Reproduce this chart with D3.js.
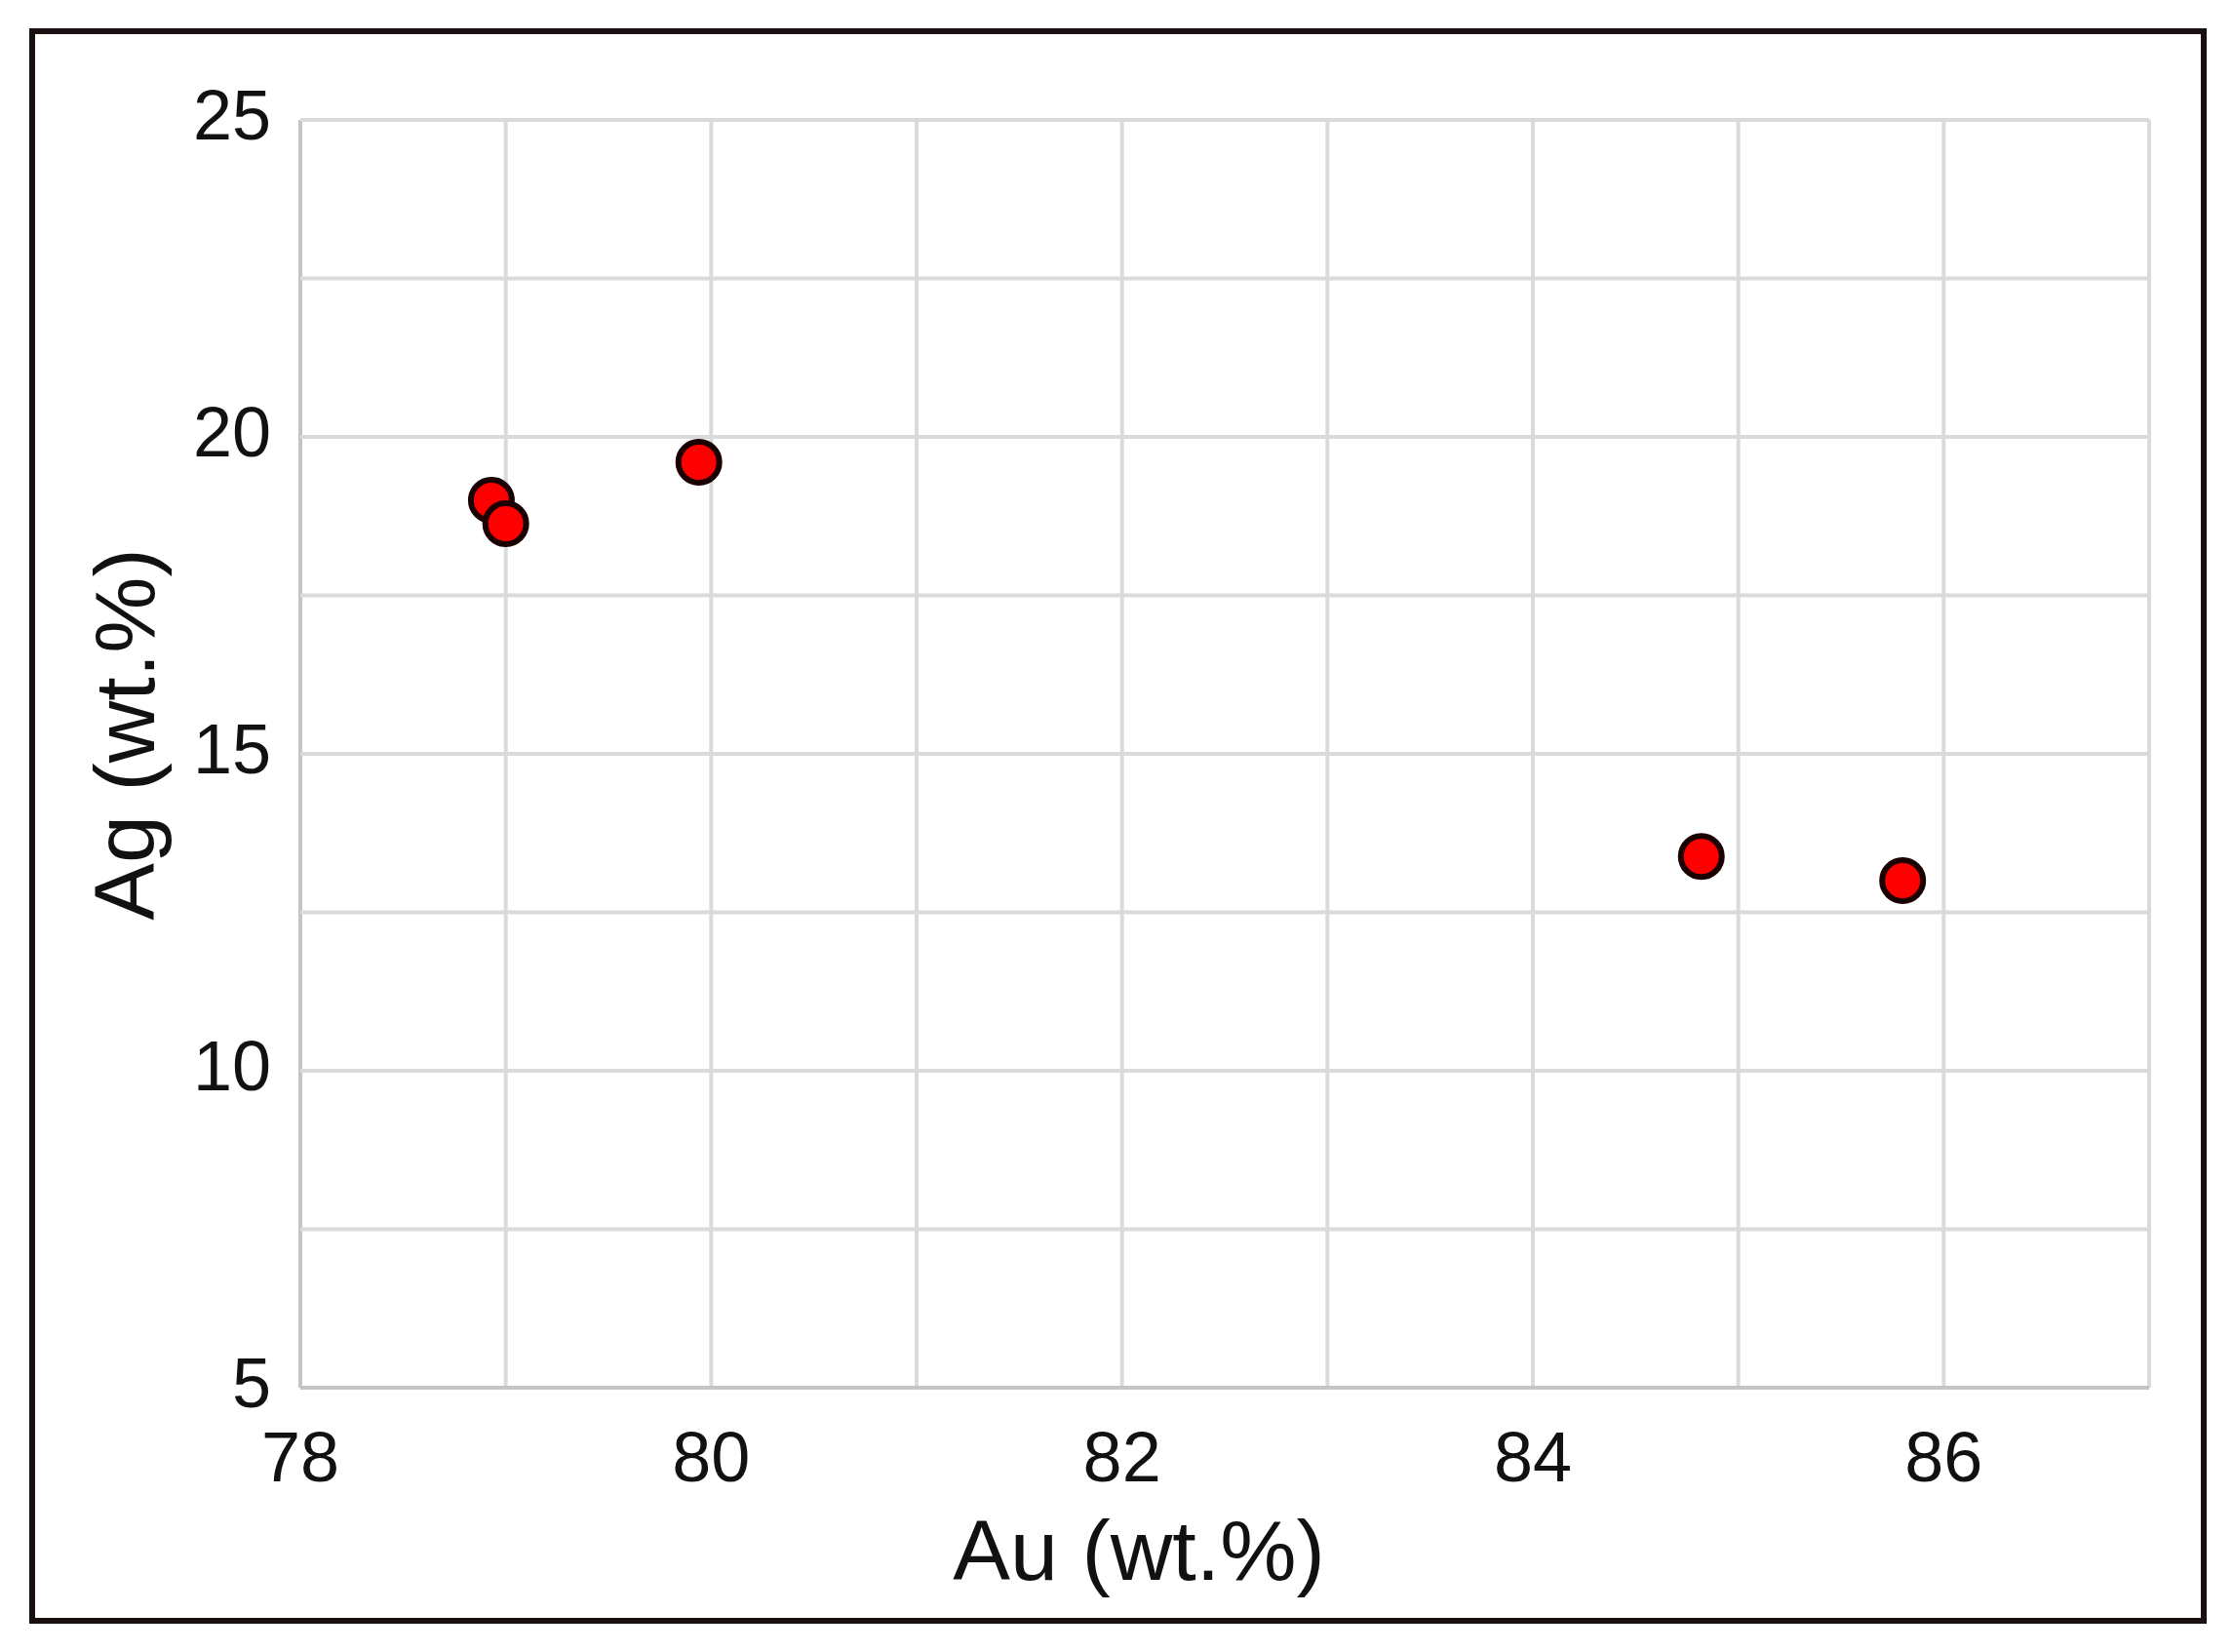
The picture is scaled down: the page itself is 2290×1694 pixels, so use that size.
<!DOCTYPE html>
<html>
<head>
<meta charset="utf-8">
<script src="https://cdn.jsdelivr.net/npm/d3@7"></script>
<style>
  body { margin: 0; background: #fff; }
  text { font-family: "Liberation Sans", Arial, sans-serif; fill: #111; }
</style>
</head>
<body>
<svg id="chart"></svg>
<script>
// Au vs Ag composition
const auValues = [78.93, 79.0, 79.94, 84.82, 85.8];
const agValues = [19.0, 18.63, 19.6, 13.38, 13.0];
const xTicks = [78, 80, 82, 84, 86];
const yTicks = [5, 10, 15, 20, 25];

const width = 2290, height = 1694;
const margin = { top: 123, right: 86, bottom: 271, left: 308 };

const svg = d3.select('#chart')
    .attr('width', width)
    .attr('height', height);

svg.append('rect')
    .attr('x', 33).attr('y', 32)
    .attr('width', 2227).attr('height', 1630)
    .attr('fill', 'none')
    .attr('stroke', '#1a1010')
    .attr('stroke-width', 6);

const x = d3.scaleLinear().domain([78, 87]).range([margin.left, width - margin.right]);
const y = d3.scaleLinear().domain([5, 25]).range([height - margin.bottom, margin.top]);

const grid = svg.append('g');
grid.selectAll('.vgrid')
    .data(d3.range(78, 87.01, 1))
    .join('line')
    .attr('x1', d => x(d)).attr('x2', d => x(d))
    .attr('y1', y(5)).attr('y2', y(25))
    .attr('stroke', d => d === 78 ? '#c4c4c4' : '#dadada')
    .attr('stroke-width', 4);
grid.selectAll('.hgrid')
    .data(d3.range(5, 25.01, 2.5))
    .join('line')
    .attr('x1', x(78)).attr('x2', x(87))
    .attr('y1', d => y(d)).attr('y2', d => y(d))
    .attr('stroke', d => d === 5 ? '#c4c4c4' : '#dadada')
    .attr('stroke-width', 4);

svg.selectAll('.xt')
    .data(xTicks)
    .join('text')
    .attr('x', d => x(d))
    .attr('y', y(5) + 96)
    .attr('text-anchor', 'middle')
    .attr('font-size', 72)
    .text(d => d);

svg.selectAll('.yt')
    .data(yTicks)
    .join('text')
    .attr('x', x(78) - 30)
    .attr('y', d => y(d) + 20)
    .attr('text-anchor', 'end')
    .attr('font-size', 72)
    .text(d => d);

svg.append('text')
    .attr('x', 1168)
    .attr('y', 1620)
    .attr('text-anchor', 'middle')
    .attr('font-size', 88)
    .text('Au (wt.%)');

svg.append('text')
    .attr('transform', `translate(158, ${y(15) - 20}) rotate(-90)`)
    .attr('text-anchor', 'middle')
    .attr('font-size', 88)
    .text('Ag (wt.%)');

svg.selectAll('.pt')
    .data(auValues.map((d, i) => ({ au: d, ag: agValues[i] })))
    .join('circle')
    .attr('cx', d => x(d.au))
    .attr('cy', d => y(d.ag))
    .attr('r', 21)
    .attr('fill', '#ff0000')
    .attr('stroke', '#1a0000')
    .attr('stroke-width', 6);
</script>
</body>
</html>
